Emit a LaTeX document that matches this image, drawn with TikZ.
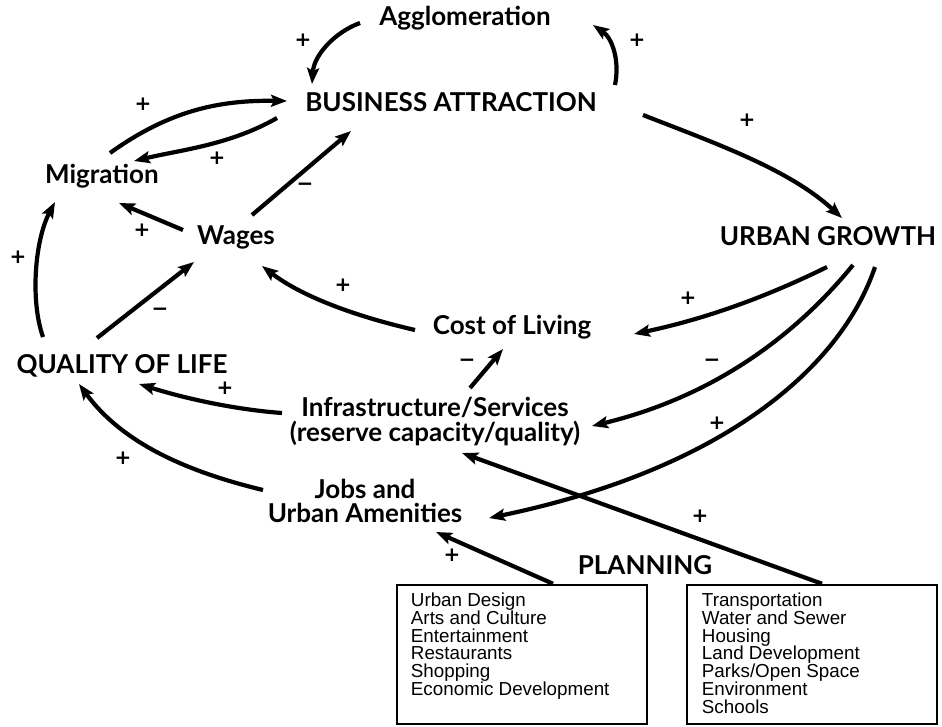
\documentclass[tikz,border=0pt]{standalone}
\usepackage{fontspec}
\setmainfont{Lato}
\newfontfamily\boxfont{Liberation Sans}
\newfontfamily\sgnfont{DejaVu Sans}
\usetikzlibrary{arrows.meta}
\begin{document}
\begin{tikzpicture}[x=1pt,y=-1pt,
  lab/.style={font=\fontsize{26}{26}\selectfont\bfseries, inner sep=0pt, align=center},
  sgn/.style={font=\sgnfont\fontsize{20}{20}\selectfont\bfseries, inner sep=0pt},
  conn/.style={line width=4.2pt, -{Stealth[length=16pt,width=12pt,inset=3pt]}},
  boxn/.style={draw, line width=2.5pt, minimum width=250pt, minimum height=139pt, inner sep=0pt},
  boxt/.style={font=\boxfont\fontsize{18.8}{17.8}\selectfont, inner sep=0pt, align=left, anchor=north west}
]
\useasboundingbox (0,0) rectangle (942,726);
\fill[white] (0,0) rectangle (942,726);

% nodes
\node[lab] (agg) at (465,18) {Agglomeration};
\node[lab] (ba) at (451,102) {BUSINESS ATTRACTION};
\node[lab] (mig) at (102,176) {Migration};
\node[lab] (wag) at (236,237) {Wages};
\node[lab] (ug) at (828,236) {URBAN GROWTH};
\node[lab] (col) at (512,327) {Cost of Living};
\node[lab] (qol) at (122,366) {QUALITY OF LIFE};
\node[lab, font=\fontsize{26}{25}\selectfont\bfseries] (inf) at (435,422) {Infrastructure/Services\\(reserve capacity/quality)};
\node[lab, font=\fontsize{26}{23.5}\selectfont\bfseries] (jobs) at (365,501) {Jobs and\\Urban Amenities};
\node[lab] (plan) at (645,565) {PLANNING};

\node[boxn] (box1) at (522,654.5) {};
\node[boxn] (box2) at (812,654.5) {};
\node[boxt] (t1) at ([shift={(15,9)}]box1.north west) {Urban Design\\Arts and Culture\\Entertainment\\Restaurants\\Shopping\\Economic Development};
\node[boxt] (t2) at ([shift={(16,9)}]box2.north west) {Transportation\\Water and Sewer\\Housing\\Land Development\\Parks/Open Space\\Environment\\Schools};

% connectors
\draw[conn] ([shift={(-105,5)}]agg.center) .. controls +(-25,9) and +(2,-29) .. ([shift={(-139,-18)}]ba.center);
\draw[conn] ([shift={(164,-17)}]ba.center) .. controls +(5,-25) and +(19,13) .. ([shift={(128,7)}]agg.center);
\draw[conn] ([shift={(8,-23)}]mig.center) .. controls +(60,-43) and +(-67,-1) .. ([shift={(-164,-1)}]ba.center);
\draw[conn] ([shift={(-174,16)}]ba.center) .. controls +(-47,27) and +(46,-11) .. ([shift={(32,-15)}]mig.center);
\draw[conn] ([shift={(16,-22)}]wag.center) -- ([shift={(-100,29)}]ba.center);
\draw[conn] ([shift={(-53,-7)}]wag.center) -- ([shift={(17,27)}]mig.center);
\draw[conn] ([shift={(-79,-29)}]qol.center) .. controls +(-13,-37) and +(-20,38) .. ([shift={(-47,26)}]mig.center);
\draw[conn] ([shift={(-25,-28)}]qol.center) -- ([shift={(-42,25)}]wag.center);
\draw[conn] ([shift={(-97,3)}]col.center) .. controls +(-65,-15) and +(38,29) .. ([shift={(26,29)}]wag.center);
\draw[conn] ([shift={(192,13)}]ba.center) .. controls +(77,30) and +(-52,-48) .. ([shift={(14,-18)}]ug.center);
\draw[conn] ([shift={(-1,31)}]ug.center) .. controls +(-67,33) and +(66,-14) .. ([shift={(122,7)}]col.center);
\draw[conn] ([shift={(25,29)}]ug.center) .. controls +(-53,65) and +(128,-31) .. ([shift={(157,4)}]inf.center);
\draw[conn] ([shift={(47,31)}]ug.center) .. controls +(-35,103) and +(231,-48) .. ([shift={(124,17)}]jobs.center);
\draw[conn] ([shift={(35,-34)}]inf.center) -- ([shift={(-9,22)}]col.center);
\draw[conn] ([shift={(-153,-9)}]inf.center) .. controls +(-42,-3) and +(51,16) .. ([shift={(17,18)}]qol.center);
\draw[conn] ([shift={(-102,-11)}]jobs.center) .. controls +(-83,-20) and +(41,56) .. ([shift={(-43,18)}]qol.center);
\draw[conn] ([xshift=10pt]box2.north) -- ([shift={(27,31)}]inf.center);
\draw[conn] ([xshift=31pt]box1.north) -- ([shift={(71,31)}]jobs.center);

% signs
\node[sgn] (s1) at (303,40) {+};
\node[sgn] (s2) at (637,40) {+};
\node[sgn] (s3) at (143,104) {+};
\node[sgn] (s4) at (217,158) {+};
\node[sgn] (s5) at (305,187) {−};
\node[sgn] (s6) at (142,230) {+};
\node[sgn] (s7) at (18,257) {+};
\node[sgn] (s8) at (160,312) {−};
\node[sgn] (s9) at (343,285) {+};
\node[sgn] (s10) at (747,120) {+};
\node[sgn] (s11) at (688,298) {+};
\node[sgn] (s12) at (712,363) {−};
\node[sgn] (s13) at (717,423) {+};
\node[sgn] (s14) at (467,363) {−};
\node[sgn] (s15) at (225,388) {+};
\node[sgn] (s16) at (123,458) {+};
\node[sgn] (s17) at (700,516) {+};
\node[sgn] (s18) at (452,555) {+};
\end{tikzpicture}
\end{document}
